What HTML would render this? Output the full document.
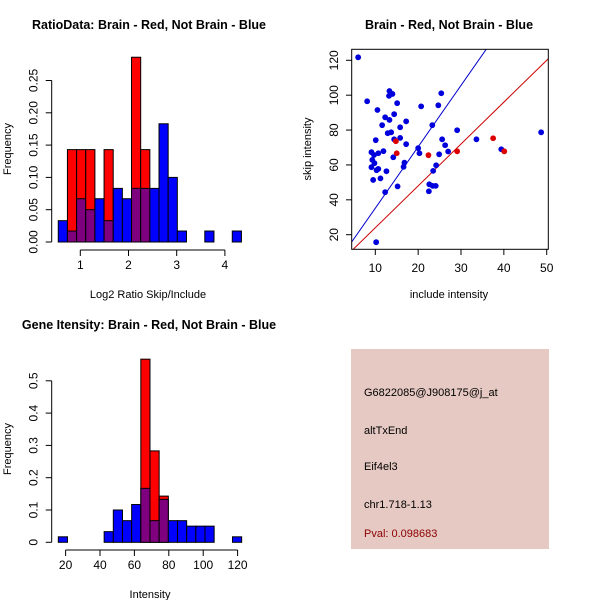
<!DOCTYPE html>
<html><head><meta charset="utf-8"><style>
html,body{margin:0;padding:0;background:#fff;width:600px;height:600px;overflow:hidden}
svg text{font-family:"Liberation Sans",sans-serif}
</style></head><body>
<svg id="c" width="600" height="600" xmlns="http://www.w3.org/2000/svg">
<text x="149" y="29" font-size="12.5" font-weight="bold" text-anchor="middle">RatioData: Brain - Red, Not Brain - Blue</text>
<text x="449" y="29" font-size="12.5" font-weight="bold" text-anchor="middle">Brain - Red, Not Brain - Blue</text>
<text x="149" y="329" font-size="12.5" font-weight="bold" text-anchor="middle">Gene Itensity: Brain - Red, Not Brain - Blue</text>
<text x="148" y="298" font-size="11" text-anchor="middle">Log2 Ratio Skip/Include</text>
<text x="11" y="149" font-size="11" text-anchor="middle" transform="rotate(-90 11 149)">Frequency</text>
<text x="449" y="298" font-size="11" text-anchor="middle">include intensity</text>
<text x="311" y="149" font-size="11" text-anchor="middle" transform="rotate(-90 311 149)">skip intensity</text>
<text x="150" y="598" font-size="11" text-anchor="middle">Intensity</text>
<text x="11" y="449" font-size="11" text-anchor="middle" transform="rotate(-90 11 449)">Frequency</text>
<g>
<rect x="351" y="349" width="198" height="200" fill="#e6c9c3"/>
<text x="364" y="396" font-size="11">G6822085@J908175@j_at</text>
<text x="364" y="434" font-size="11">altTxEnd</text>
<text x="364" y="470" font-size="11">Eif4el3</text>
<text x="364" y="508" font-size="11">chr1.718-1.13</text>
<text x="364" y="537" font-size="11" fill="#8b0000">Pval: 0.098683</text>
</g>
</svg>
<script>
const ratioBlue=[0.033,0.017,0.067,0.05,0.067,0.033,0.083,0.067,0.083,0.083,0.083,0.183,0.1,0.017,0,0,0.017,0,0,0.017];
const ratioRed=[0,0.143,0.143,0.143,0,0.143,0,0,0.286,0.143,0,0,0,0,0,0,0,0,0,0];
const ratioXTicks=[1,2,3,4];
const ratioYTicks=[0,0.05,0.10,0.15,0.20,0.25];
const ratioYLabels=["0.00","0.05","0.10","0.15","0.20","0.25"];
const geneBlue=[0.017,0,0,0,0,0.033,0.1,0.067,0.117,0.167,0.067,0.133,0.067,0.067,0.05,0.05,0.05,0,0,0.017];
const geneRed=[0,0,0,0,0,0,0,0,0,0.567,0.283,0.143,0,0,0,0,0,0,0,0];
const geneXTicks=[20,40,60,80,100,120];
const geneYTicks=[0,0.1,0.2,0.3,0.4,0.5];
const blueX=[6.0,8.1,10.5,13.3,13.2,14.0,15.1,12.3,14.4,13.3,11.6,17.2,15.8,12.9,13.7,15.8,14.4,17.2,10.1,9.1,10.7,11.9,9.7,9.3,9.8,9.1,10.7,10.3,12.6,11.2,9.5,14.2,16.8,16.6,15.2,12.3,10.2,20.7,25.4,24.7,23.3,29.1,25.6,26.3,27.0,20.0,20.3,24.9,24.2,23.5,22.6,23.4,24.1,22.5,33.6,39.4,48.7];
const blueY=[121.7,96.5,91.5,102.4,99.6,100.7,95.4,87.3,89.1,85.8,82.8,85.0,81.6,78.2,78.7,75.5,74.7,71.9,74.2,67.3,66.7,67.9,65.7,62.9,61.0,58.7,57.7,57.0,56.4,52.3,51.4,64.4,61.3,58.9,47.7,44.4,15.7,93.6,101.1,94.2,82.8,79.9,74.7,71.3,67.7,69.6,66.7,66.1,59.8,56.6,48.9,48.0,48.0,44.9,74.7,69.0,78.7];
const redX=[14.8,15.0,22.4,29.1,37.5,40.1];
const redY=[73.6,66.7,65.6,67.8,75.3,67.8];
const scXTicks=[10,20,30,40,50];
const scYTicks=[20,40,60,80,100,120];
const redSlope=2.4, blueSlope=3.52;

const svg=document.getElementById('c');
const NS="http://www.w3.org/2000/svg";
function mk(tag,at,parent){const e=document.createElementNS(NS,tag);for(const k in at)e.setAttribute(k,at[k]);(parent||svg).appendChild(e);return e;}

function hist(name,blue,red,x0,bw,sx,sy,xTicks,yTicks,yLabels,axisY,axisX){
  const g=mk('g',{});
  
  
  for(let i=0;i<blue.length;i++){
    const xa=sx(x0+i*bw), xb=sx(x0+(i+1)*bw);
    const b=blue[i], r=red[i];
    const hi=Math.max(b,r), lo=Math.min(b,r);
    if(hi<=0) continue;
    const col=r>b?'#ff0000':'#0000ff';
    const e=mk('rect',{x:xa,y:sy(hi),width:xb-xa,height:sy(0)-sy(hi),fill:col,stroke:'#000','stroke-width':1},g);
    
    
    if(lo>0){
      const p=mk('rect',{x:xa,y:sy(lo),width:xb-xa,height:sy(0)-sy(lo),fill:'#7f007f',stroke:'#000','stroke-width':1},g);
      
      
    }
  }
  const xa=mk('g',{},g);
  
  
  mk('line',{x1:sx(xTicks[0]),x2:sx(xTicks[xTicks.length-1]),y1:axisY,y2:axisY,stroke:'#000'},xa);
  xTicks.forEach(t=>{mk('line',{x1:sx(t),x2:sx(t),y1:axisY,y2:axisY+6,stroke:'#000'},xa);
    const tx=mk('text',{x:sx(t),y:axisY+19,'font-size':12,'text-anchor':'middle'},xa);tx.textContent=t;});
  const ya=mk('g',{},g);
  
  
  mk('line',{x1:axisX,x2:axisX,y1:sy(yTicks[0]),y2:sy(yTicks[yTicks.length-1]),stroke:'#000'},ya);
  const bx=axisX-14;
  yTicks.forEach((t,i)=>{mk('line',{x1:axisX,x2:axisX-6,y1:sy(t),y2:sy(t),stroke:'#000'},ya);
    const tx=mk('text',{x:bx,y:sy(t),'font-size':12,'text-anchor':'middle',transform:`rotate(-90 ${bx} ${sy(t)})`},ya);tx.textContent=yLabels[i];});
}
hist('ratio-hist',ratioBlue,ratioRed,0.543,0.19,v=>80.3+(v-1)*48.2,v=>242-v/0.05*32.3,ratioXTicks,ratioYTicks,ratioYLabels,250,51.7);
hist('gene-hist',geneBlue,geneRed,15.76,5.33,v=>65.6+(v-20)*1.72,v=>542.3-v/0.1*32.3,geneXTicks,geneYTicks,geneYTicks.map(String),550,51.7);

// scatter
const sx=v=>375.3+(v-10)*4.285, sy=v=>234.7-(v-20)*1.744;
const sg=mk('g',{});


const defs=mk('defs',{},sg);
const cp=mk('clipPath',{id:'clip'},defs);
mk('rect',{x:351.7,y:49.3,width:196.6,height:200},cp);
const rl=mk('line',{x1:sx(4.49),y1:sy(redSlope*4.49),x2:sx(50.4),y2:sy(redSlope*50.4),stroke:'#cc0000','clip-path':'url(#clip)'},sg);


const bl=mk('line',{x1:sx(4.49),y1:sy(blueSlope*4.49),x2:sx(50.4),y2:sy(blueSlope*50.4),stroke:'#0000cc','clip-path':'url(#clip)'},sg);


blueX.forEach((x,i)=>{const c=mk('circle',{cx:sx(x),cy:sy(blueY[i]),r:2.9,fill:'#0000dd'},sg);
  
  });
redX.forEach((x,i)=>{const c=mk('circle',{cx:sx(x),cy:sy(redY[i]),r:2.9,fill:'#dd0000'},sg);
  
  });
const box=mk('rect',{x:351.7,y:49.3,width:196.6,height:200,fill:'none',stroke:'#000'},sg);


scXTicks.forEach(t=>{mk('line',{x1:sx(t),x2:sx(t),y1:249.3,y2:255,stroke:'#000'},sg);
  const tx=mk('text',{x:sx(t),y:272,'font-size':12,'text-anchor':'middle'},sg);tx.textContent=t;});
scYTicks.forEach(t=>{mk('line',{x1:351.7,x2:346,y1:sy(t),y2:sy(t),stroke:'#000'},sg);
  const tx=mk('text',{x:338,y:sy(t),'font-size':12,'text-anchor':'middle',transform:`rotate(-90 338 ${sy(t)})`},sg);tx.textContent=t;});
</script>
</body></html>
